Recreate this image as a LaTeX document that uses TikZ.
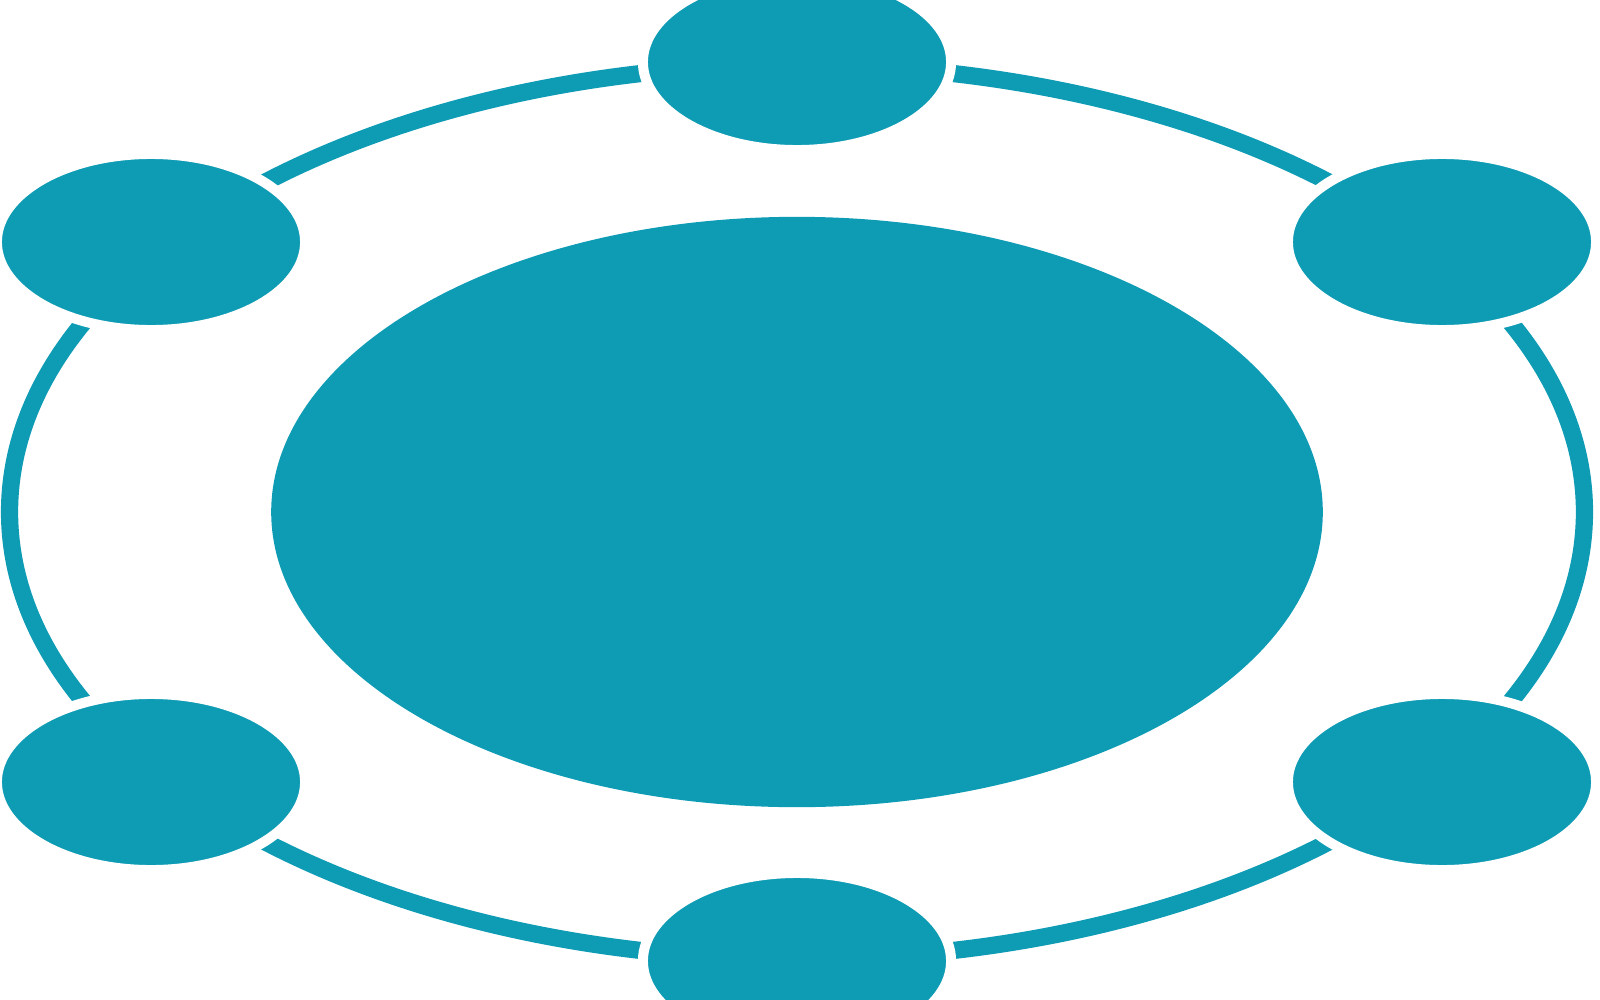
\documentclass[tikz,border=0pt]{standalone}
\usepackage[svgnames]{xcolor}
\usetikzlibrary{shapes.geometric}
\definecolor{logoteal}{HTML}{0E9BB4}

\begin{document}
\begin{tikzpicture}[x=0.01cm, y=-0.01cm,
	sat/.style={ellipse, fill=logoteal, draw=white, line width=2.85pt, minimum width=3.08cm, minimum height=1.76cm, inner sep=0pt},
	ring/.style={draw=logoteal, line width=4.9pt}]
	\clip (0,0) rectangle (1600,1000);
	\node[ellipse, fill=logoteal, minimum width=10.51cm, minimum height=5.9cm, inner sep=0pt] (core) at (797,512) {};
	\draw[ring] (core.center) ellipse [x radius=7.87cm, y radius=4.47cm];
	\node[sat] (top) at (797,62) {};
	\node[sat] (topright) at (1442,242) {};
	\node[sat] (botright) at (1442,782) {};
	\node[sat] (bot) at (797,961) {};
	\node[sat] (botleft) at (151,782) {};
	\node[sat] (topleft) at (151,242) {};
\end{tikzpicture}
\end{document}
